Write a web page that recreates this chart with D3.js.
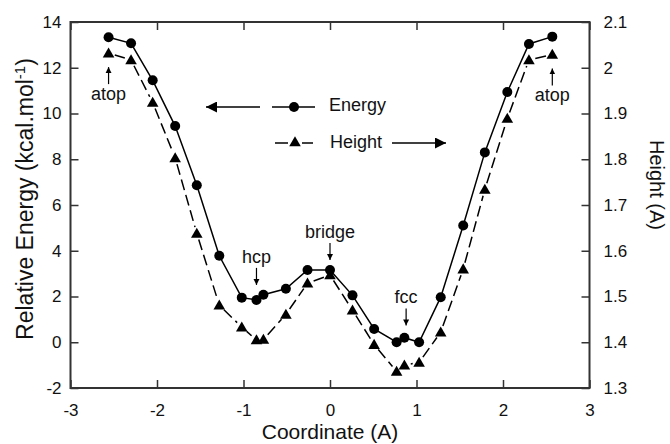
<!DOCTYPE html>
<html><head><meta charset="utf-8">
<script src="https://cdn.jsdelivr.net/npm/d3@7"></script>
<style>body{margin:0;background:#fff}svg{display:block}text{font-family:"Liberation Sans",Arial,sans-serif;fill:#111}</style>
</head><body><svg id="c" width="670" height="444"></svg>
<script>
const coord  = [-2.56,-2.30,-2.05,-1.79,-1.54,-1.28,-1.02,-0.85,-0.77,-0.51,-0.26,0.00,0.26,0.51,0.77,0.86,1.03,1.28,1.54,1.79,2.05,2.30,2.57];
const energy = [13.33,13.07,11.45,9.45,6.86,3.78,1.95,1.85,2.08,2.34,3.16,3.16,2.05,0.58,0.00,0.20,0.00,1.97,5.10,8.30,10.94,13.04,13.36];
const height = [2.032,2.017,1.924,1.803,1.638,1.481,1.433,1.405,1.406,1.461,1.529,1.547,1.470,1.395,1.336,1.350,1.356,1.422,1.560,1.734,1.889,2.017,2.029];
const xTicks = [-3,-2,-1,0,1,2,3];
const eTicks = [-2,0,2,4,6,8,10,12,14];
const hTicks = [1.3,1.4,1.5,1.6,1.7,1.8,1.9,2.0,2.1];
const sites = [
  {label:"atop", x:-2.56, dir:"up", v:2.032},
  {label:"hcp", x:-0.85, dir:"down", v:2.07},
  {label:"bridge", x:0.0, dir:"down", v:3.16},
  {label:"fcc", x:0.88, dir:"down", v:0.3},
  {label:"atop", x:2.57, dir:"up", v:2.029}
];

const svg = d3.select("#c");
const L=70.5, R=589.5, T=22, B=388;
const x = d3.scaleLinear().domain([-3,3]).range([L,R]);
const yE = d3.scaleLinear().domain([-2,14]).range([B,T]);
const yH = d3.scaleLinear().domain([1.3,2.1]).range([B,T]);
const axisCol = "#333";
const fmt = d => String(+(+d).toFixed(1));

const tl = 8;
function styleAxis(g){
  g.select(".domain").remove();
  g.selectAll("line").attr("stroke",axisCol).attr("stroke-width",1.5);
  g.selectAll("text").attr("font-size",17).attr("fill","#111")
   .style("font-family","Liberation Sans, Arial, sans-serif");
}
svg.append("g").attr("transform",`translate(0,${B})`)
  .call(d3.axisBottom(x).tickValues(xTicks).tickSize(-tl).tickPadding(16).tickFormat(fmt)).call(styleAxis);
svg.append("g").attr("transform",`translate(0,${T})`)
  .call(d3.axisTop(x).tickValues(xTicks).tickSize(-tl).tickFormat("")).call(styleAxis);
svg.append("g").attr("transform",`translate(${L},0)`)
  .call(d3.axisLeft(yE).tickValues(eTicks).tickSize(-tl).tickPadding(9).tickFormat(fmt)).call(styleAxis);
svg.append("g").attr("transform",`translate(${R},0)`)
  .call(d3.axisRight(yH).tickValues(hTicks).tickSize(-tl).tickPadding(14).tickFormat(fmt)).call(styleAxis);
svg.append("rect").attr("x",L).attr("y",T).attr("width",R-L).attr("height",B-T)
  .attr("fill","none").attr("stroke",axisCol).attr("stroke-width",2);

// axis titles
svg.append("text").attr("x",(L+R)/2).attr("y",439).attr("text-anchor","middle").attr("font-size",21).text("Coordinate (A)");
const yt = svg.append("text").attr("transform","translate(33,199) rotate(-90)").attr("text-anchor","middle").attr("font-size",23);
yt.append("tspan").text("Relative Energy (kcal.mol");
yt.append("tspan").attr("dy",-8).attr("font-size",15).text("-1");
yt.append("tspan").attr("dy",8).text(")");
svg.append("text").attr("transform","translate(650,185) rotate(90)").attr("text-anchor","middle").attr("font-size",20).text("Height (A)");

// defs
const defs = svg.append("defs");
defs.append("marker").attr("id","ah").attr("viewBox","0 0 10 10").attr("refX",10).attr("refY",5)
  .attr("markerWidth",13).attr("markerHeight",11).attr("markerUnits","userSpaceOnUse").attr("orient","auto")
  .append("path").attr("d","M0,0L10,5L0,10Z").attr("fill","#000");
defs.append("marker").attr("id","ahs").attr("viewBox","0 0 10 10").attr("refX",10).attr("refY",5)
  .attr("markerWidth",6).attr("markerHeight",7).attr("markerUnits","userSpaceOnUse").attr("orient","auto")
  .append("path").attr("d","M0,0L10,5L0,10Z").attr("fill","#000");

const tri = d3.symbol().type(d3.symbolTriangle).size(58);

// height series: dashed segments trimmed at markers
const hp = coord.map((c,i)=>[x(c), yH(height[i])]);
const trim = 6.5;
for (let i=0;i<hp.length-1;i++){
  const [x1,y1]=hp[i],[x2,y2]=hp[i+1];
  const dx=x2-x1, dy=y2-y1, d=Math.hypot(dx,dy);
  if (d < 2*trim+1) continue;
  const ux=dx/d, uy=dy/d;
  svg.append("line").attr("x1",x1+ux*trim).attr("y1",y1+uy*trim).attr("x2",x2-ux*trim).attr("y2",y2-uy*trim)
    .attr("stroke","#000").attr("stroke-width",1.5).attr("stroke-dasharray","11,5");
}
svg.append("g").selectAll("path").data(coord).join("path")
  .attr("d",tri).attr("transform",(d,i)=>`translate(${x(d)},${yH(height[i])+1})`).attr("fill","#000");

// energy series
svg.append("path").datum(coord.map((c,i)=>[c,energy[i]]))
  .attr("d",d3.line().x(d=>x(d[0])).y(d=>yE(d[1]))).attr("fill","none").attr("stroke","#000").attr("stroke-width",1.5);
svg.append("g").selectAll("circle").data(coord).join("circle")
  .attr("cx",d=>x(d)).attr("cy",(d,i)=>yE(energy[i])).attr("r",5).attr("fill","#000");

// site labels with arrows
sites.forEach(s=>{
  const px=x(s.x);
  if (s.dir==="up"){
    const top = yH(s.v)+14;
    svg.append("line").attr("x1",px).attr("y1",top+17).attr("x2",px).attr("y2",top)
      .attr("stroke","#000").attr("stroke-width",1.2).attr("marker-end","url(#ahs)");
    svg.append("text").attr("x",px).attr("y",top+33).attr("text-anchor","middle").attr("font-size",18).text(s.label);
  } else {
    const bot = yE(s.v)-10;
    svg.append("line").attr("x1",px).attr("y1",bot-17).attr("x2",px).attr("y2",bot)
      .attr("stroke","#000").attr("stroke-width",1.2).attr("marker-end","url(#ahs)");
    svg.append("text").attr("x",px).attr("y",bot-22).attr("text-anchor","middle").attr("font-size",18).text(s.label);
  }
});

// legend
svg.append("line").attr("x1",260).attr("y1",107).attr("x2",206).attr("y2",107)
  .attr("stroke","#000").attr("stroke-width",1.5).attr("marker-end","url(#ah)");
svg.append("line").attr("x1",272).attr("y1",107).attr("x2",315).attr("y2",107).attr("stroke","#000").attr("stroke-width",1.5);
svg.append("circle").attr("cx",294).attr("cy",107).attr("r",5).attr("fill","#000");
svg.append("text").attr("x",329).attr("y",111).attr("font-size",18).text("Energy");
svg.append("line").attr("x1",275).attr("y1",143).attr("x2",288).attr("y2",143).attr("stroke","#000").attr("stroke-width",1.5);
svg.append("line").attr("x1",302).attr("y1",143).attr("x2",313).attr("y2",143).attr("stroke","#000").attr("stroke-width",1.5);
svg.append("path").attr("d",tri).attr("transform","translate(295,143)").attr("fill","#000");
svg.append("text").attr("x",330).attr("y",148).attr("font-size",18).text("Height");
svg.append("line").attr("x1",392).attr("y1",143).attr("x2",446).attr("y2",143)
  .attr("stroke","#000").attr("stroke-width",1.5).attr("marker-end","url(#ah)");
</script></body></html>
